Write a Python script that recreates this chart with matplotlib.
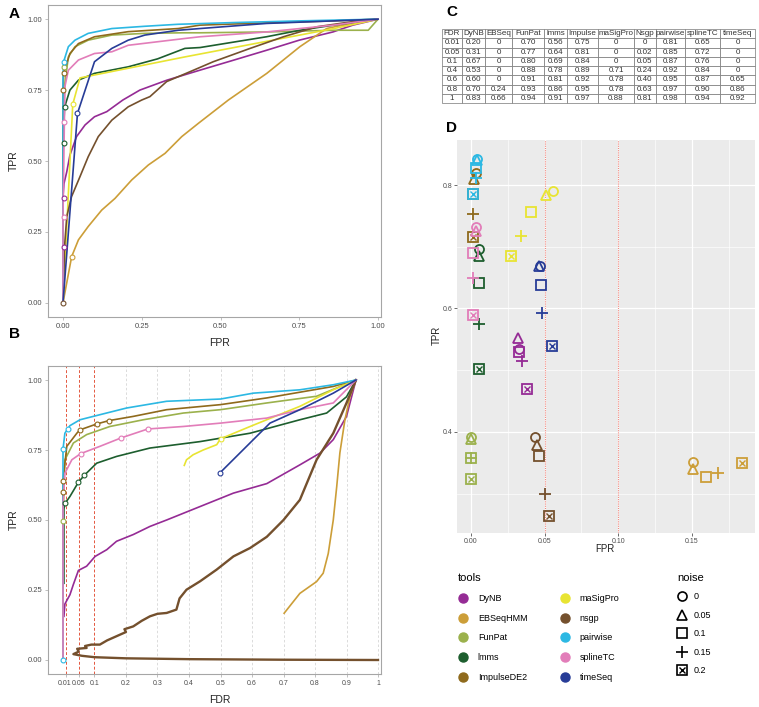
import matplotlib
matplotlib.use('Agg')
import matplotlib.pyplot as plt
import matplotlib.transforms as mtrans
from matplotlib.lines import Line2D
from matplotlib.legend_handler import HandlerTuple

plt.rcParams['font.family'] = ['Liberation Sans', 'DejaVu Sans']

# ---- data ----
tools = ['DyNB', 'EBSeqHMM', 'FunPat', 'lmms', 'ImpulseDE2',
         'maSigPro', 'nsgp', 'pairwise', 'splineTC', 'timeSeq']
colors = ['#952B95', '#CC9E38', '#9BB14C', '#1D5E2E', '#8F6A1C',
          '#E8E432', '#74502D', '#2CB8E3', '#E27DB9', '#273C97']

# panel A: ROC curves (FPR, TPR)
roc_x = {
    'DyNB': [0, 0, 0.003, 0.012, 0.022, 0.043, 0.07, 0.1, 0.139, 0.19, 0.244, 0.33, 0.434, 0.54, 0.645, 0.75, 0.857, 0.92, 1.0],
    'EBSeqHMM': [0, 0.0275, 0.049, 0.08, 0.123, 0.165, 0.218, 0.271, 0.324, 0.377, 0.43, 0.525, 0.647, 0.752, 0.837, 0.87, 1.0],
    'FunPat': [0, 0, 0.006, 0.017, 0.038, 0.08, 0.155, 0.26, 0.38, 0.435, 0.646, 0.858, 0.969, 1.0],
    'lmms': [0, 0, 0.005, 0.022, 0.049, 0.1, 0.207, 0.3, 0.387, 0.435, 0.646, 0.752, 0.858, 1.0],
    'ImpulseDE2': [0, 0, 0.002, 0.022, 0.049, 0.1, 0.207, 0.366, 0.435, 0.646, 0.858, 1.0],
    'maSigPro': [0, 0.031, 0.054, 0.387, 0.86, 1.0],
    'nsgp': [0, 0.005, 0.012, 0.027, 0.054, 0.08, 0.112, 0.155, 0.207, 0.25, 0.276, 0.329, 0.393, 0.477, 0.594, 0.7, 0.805, 0.911, 1.0],
    'pairwise': [0, 0, 0.002, 0.017, 0.038, 0.08, 0.155, 0.26, 0.365, 0.54, 0.752, 1.0],
    'splineTC': [0, 0, 0.006, 0.017, 0.049, 0.1, 0.155, 0.207, 0.387, 0.435, 0.646, 0.858, 1.0],
    'timeSeq': [0, 0.046, 0.1, 0.155, 0.207, 0.26, 0.366, 0.435, 0.646, 1.0],
}
roc_y = {
    'DyNB': [0, 0.374, 0.42, 0.462, 0.521, 0.586, 0.627, 0.656, 0.674, 0.715, 0.75, 0.785, 0.82, 0.855, 0.89, 0.926, 0.955, 0.979, 1.0],
    'EBSeqHMM': [0, 0.163, 0.222, 0.269, 0.327, 0.368, 0.433, 0.486, 0.527, 0.586, 0.633, 0.715, 0.809, 0.903, 0.967, 0.975, 1.0],
    'FunPat': [0, 0.6, 0.774, 0.867, 0.903, 0.926, 0.944, 0.95, 0.952, 0.952, 0.955, 0.961, 0.961, 1.0],
    'lmms': [0, 0.56, 0.69, 0.75, 0.785, 0.809, 0.832, 0.86, 0.897, 0.9, 0.938, 0.961, 0.979, 1.0],
    'ImpulseDE2': [0, 0.75, 0.81, 0.879, 0.914, 0.938, 0.956, 0.967, 0.979, 0.987, 0.994, 1.0],
    'maSigPro': [0, 0.70, 0.793, 0.867, 0.967, 1.0],
    'nsgp': [0, 0.2, 0.304, 0.374, 0.445, 0.515, 0.586, 0.644, 0.691, 0.715, 0.727, 0.78, 0.81, 0.85, 0.897, 0.938, 0.973, 0.99, 1.0],
    'pairwise': [0, 0.8, 0.85, 0.903, 0.926, 0.95, 0.967, 0.975, 0.982, 0.988, 0.994, 1.0],
    'splineTC': [0, 0.3, 0.762, 0.82, 0.856, 0.879, 0.885, 0.908, 0.932, 0.938, 0.955, 0.979, 1.0],
    'timeSeq': [0, 0.668, 0.85, 0.897, 0.926, 0.944, 0.961, 0.967, 0.985, 1.0],
}
roc_mark_x = {
    'DyNB': [0.002, 0.002], 'EBSeqHMM': [0.0275], 'FunPat': [0.003],
    'lmms': [0.002, 0.005], 'ImpulseDE2': [0, 0.002], 'maSigPro': [0.031],
    'nsgp': [0], 'pairwise': [0.002], 'splineTC': [0.002, 0.002], 'timeSeq': [0.046],
}
roc_mark_y = {
    'DyNB': [0.197, 0.368], 'EBSeqHMM': [0.163], 'FunPat': [0.83],
    'lmms': [0.562, 0.69], 'ImpulseDE2': [0.75, 0.81], 'maSigPro': [0.70],
    'nsgp': [0], 'pairwise': [0.85], 'splineTC': [0.303, 0.638], 'timeSeq': [0.668],
}

# panel B: TPR against FDR
fdr_x = {
    'DyNB': [0.003, 0.006, 0.022, 0.033, 0.049, 0.075, 0.102, 0.139, 0.17, 0.223, 0.276, 0.329, 0.435, 0.541, 0.647, 0.752, 0.816, 0.858, 0.9, 0.93],
    'EBSeqHMM': [0.702, 0.752, 0.805, 0.826, 0.842, 0.858, 0.869, 0.879, 0.895, 0.911, 0.93],
    'FunPat': [0, 0, 0.006, 0.033, 0.075, 0.149, 0.255, 0.382, 0.5, 0.647, 0.805, 0.93],
    'lmms': [0.003, 0.003, 0.007, 0.022, 0.049, 0.068, 0.107, 0.17, 0.276, 0.435, 0.594, 0.752, 0.837, 0.9, 0.93],
    'ImpulseDE2': [0, 0, 0, 0.012, 0.044, 0.054, 0.107, 0.146, 0.223, 0.329, 0.5, 0.647, 0.858, 0.93],
    'maSigPro': [0.385, 0.392, 0.413, 0.445, 0.488, 0.5, 0.594, 0.752, 0.858, 0.93],
    'nsgp': [1.0, 0.7, 0.4, 0.2, 0.1, 0.06, 0.033, 0.05, 0.045, 0.075, 0.07, 0.09, 0.117, 0.14, 0.17, 0.2, 0.195,
             0.223, 0.25, 0.276, 0.3, 0.329, 0.36, 0.37, 0.392, 0.435, 0.488, 0.541, 0.594, 0.647, 0.7, 0.752,
             0.805, 0.858, 0.9, 0.93],
    'pairwise': [0, 0, 0.006, 0.022, 0.054, 0.117, 0.202, 0.329, 0.5, 0.604, 0.752, 0.858, 0.93],
    'splineTC': [0, 0, 0.006, 0.028, 0.056, 0.117, 0.184, 0.269, 0.382, 0.5, 0.647, 0.752, 0.858, 0.93],
    'timeSeq': [0.497, 0.657, 0.752, 0.858, 0.93],
}
fdr_y = {
    'DyNB': [0.156, 0.2, 0.233, 0.27, 0.32, 0.335, 0.37, 0.394, 0.424, 0.448, 0.477, 0.5, 0.548, 0.596, 0.63, 0.697, 0.739, 0.787, 0.87, 1.0],
    'EBSeqHMM': [0.167, 0.238, 0.28, 0.31, 0.38, 0.5, 0.62, 0.74, 0.858, 0.94, 1.0],
    'FunPat': [0, 0.495, 0.715, 0.775, 0.805, 0.834, 0.858, 0.882, 0.894, 0.918, 0.942, 1.0],
    'lmms': [0.274, 0.54, 0.56, 0.584, 0.635, 0.66, 0.703, 0.727, 0.757, 0.78, 0.81, 0.858, 0.882, 0.94, 1.0],
    'ImpulseDE2': [0, 0.60, 0.64, 0.763, 0.81, 0.822, 0.843, 0.855, 0.87, 0.894, 0.912, 0.936, 0.977, 1.0],
    'maSigPro': [0.695, 0.715, 0.733, 0.75, 0.769, 0.79, 0.834, 0.906, 0.965, 1.0],
    'nsgp': [0.0, 0.001, 0.003, 0.006, 0.01, 0.015, 0.021, 0.03, 0.04, 0.043, 0.05, 0.055, 0.055, 0.07, 0.085, 0.1, 0.11,
             0.12, 0.14, 0.156, 0.165, 0.168, 0.18, 0.22, 0.251, 0.281, 0.323, 0.37, 0.4, 0.44, 0.5, 0.572,
             0.715, 0.81, 0.918, 1.0],
    'pairwise': [0, 0.753, 0.81, 0.837, 0.858, 0.876, 0.9, 0.924, 0.932, 0.953, 0.965, 0.983, 1.0],
    'splineTC': [0, 0.55, 0.667, 0.715, 0.737, 0.763, 0.793, 0.825, 0.834, 0.846, 0.864, 0.894, 0.918, 1.0],
    'timeSeq': [0.667, 0.846, 0.894, 0.953, 1.0],
}
fdr_mark_x = {
    'DyNB': [], 'EBSeqHMM': [], 'FunPat': [0], 'lmms': [0.007, 0.049, 0.068],
    'ImpulseDE2': [0, 0, 0.054, 0.107, 0.146], 'maSigPro': [0.5], 'nsgp': [],
    'pairwise': [0, 0, 0.017], 'splineTC': [0.056, 0.184, 0.269], 'timeSeq': [0.497],
}
fdr_mark_y = {
    'DyNB': [], 'EBSeqHMM': [], 'FunPat': [0.495], 'lmms': [0.56, 0.635, 0.66],
    'ImpulseDE2': [0.60, 0.64, 0.822, 0.843, 0.855], 'maSigPro': [0.79], 'nsgp': [],
    'pairwise': [0, 0.753, 0.825], 'splineTC': [0.737, 0.793, 0.825], 'timeSeq': [0.667],
}
fdr_cutoffs = [0.01, 0.05, 0.1]
fdr_grid = [0.2, 0.3, 0.4, 0.5, 0.6, 0.7, 0.8, 0.9, 1.0]
fdr_ticks = [0.01, 0.05, 0.1, 0.2, 0.3, 0.4, 0.5, 0.6, 0.7, 0.8, 0.9, 1]
fdr_ticklabels = ['0.01', '0.05', '0.1', '0.2', '0.3', '0.4', '0.5', '0.6', '0.7', '0.8', '0.9', '1']

# panel C: table
table_header = ['FDR', 'DyNB', 'EBSeq', 'FunPat', 'lmms', 'Impulse', 'maSigPro',
                'Nsgp', 'pairwise', 'splineTC', 'timeSeq']
table_rows = [
    ['0.01', '0.20', '0', '0.70', '0.56', '0.75', '0', '0', '0.81', '0.65', '0'],
    ['0.05', '0.31', '0', '0.77', '0.64', '0.81', '0', '0.02', '0.85', '0.72', '0'],
    ['0.1', '0.67', '0', '0.80', '0.69', '0.84', '0', '0.05', '0.87', '0.76', '0'],
    ['0.4', '0.53', '0', '0.88', '0.78', '0.89', '0.71', '0.24', '0.92', '0.84', '0'],
    ['0.6', '0.60', '0', '0.91', '0.81', '0.92', '0.78', '0.40', '0.95', '0.87', '0.65'],
    ['0.8', '0.70', '0.24', '0.93', '0.86', '0.95', '0.78', '0.63', '0.97', '0.90', '0.86'],
    ['1', '0.83', '0.66', '0.94', '0.91', '0.97', '0.88', '0.81', '0.98', '0.94', '0.92'],
]
table_colw = [20, 22.7, 27.7, 32, 22.6, 31, 35.7, 22, 29, 35, 35]

# panel D: FPR/TPR per tool at each noise level
noise_levels = ['0', '0.05', '0.1', '0.15', '0.2']
d_fpr = [
    [0.0327, 0.0317, 0.0327, 0.0345, 0.0379],
    [0.1512, 0.1512, 0.160, 0.1678, 0.184],
    [0.0, 0.0, 0.0, 0.0, 0.0],
    [0.0057, 0.0057, 0.0052, 0.0052, 0.0054],
    [0.0034, 0.0023, 0.0016, 0.0016, 0.0016],
    [0.0556, 0.051, 0.0406, 0.0342, 0.027],
    [0.0435, 0.0447, 0.0463, 0.0506, 0.0533],
    [0.0039, 0.0039, 0.0036, 0.0036, 0.0016],
    [0.0032, 0.0032, 0.0016, 0.0016, 0.0011],
    [0.047, 0.0465, 0.0474, 0.048, 0.0553],
]
d_tpr = [
    [0.534, 0.5515, 0.530, 0.515, 0.470],
    [0.3516, 0.340, 0.327, 0.333, 0.349],
    [0.391, 0.389, 0.357, 0.357, 0.323],
    [0.697, 0.685, 0.641, 0.575, 0.502],
    [0.819, 0.809, 0.785, 0.753, 0.715],
    [0.791, 0.784, 0.757, 0.717, 0.685],
    [0.392, 0.379, 0.36, 0.299, 0.264],
    [0.843, 0.84, 0.828, 0.811, 0.785],
    [0.732, 0.726, 0.690, 0.649, 0.589],
    [0.668, 0.668, 0.638, 0.592, 0.539],
]
d_fpr_lines = [0.05, 0.10]

# ---- layout helpers ----
W, H = 759, 707
fig = plt.figure(figsize=(W / 100, H / 100), dpi=100)


def box(l, t, r, b):
    return [l / W, 1 - b / H, (r - l) / W, (b - t) / H]


def ftext(x, y, s, **kw):
    fig.text(x / W, 1 - y / H, s, **kw)


tick_grey = '#4D4D4D'
spine_grey = '#A6A6A6'


def style_box(ax, size=5.5):
    for sp in ax.spines.values():
        sp.set_color(spine_grey)
        sp.set_linewidth(0.8)
    ax.tick_params(length=2, width=0.5, color=spine_grey, labelsize=size,
                   labelcolor=tick_grey, pad=2)


# ---- panel A ----
axA = fig.add_axes(box(48, 5, 381, 317))
for t, c in zip(tools, colors):
    axA.plot(roc_x[t], roc_y[t], color=c, lw=1.2)
for t, c in zip(tools, colors):
    axA.plot(roc_mark_x[t], roc_mark_y[t], 'o', mfc='white', mec=c, ms=3.5, mew=0.8)
axA.set_xlim(-0.0476, 1.0095)
axA.set_ylim(-0.05, 1.05)
axA.set_xticks([0, 0.25, 0.5, 0.75, 1.0])
axA.set_xticklabels(['0.00', '0.25', '0.50', '0.75', '1.00'])
axA.set_yticks([0, 0.25, 0.5, 0.75, 1.0])
axA.set_yticklabels(['0.00', '0.25', '0.50', '0.75', '1.00'])
style_box(axA)
ftext(14, 161, 'TPR', rotation=90, ha='center', va='center', fontsize=7.5, color='#222222')
ftext(220, 343, 'FPR', ha='center', va='center', fontsize=7.5, color='#222222')
ftext(9, 14, 'A', ha='left', va='center', fontsize=11, fontweight='bold')

# ---- panel B ----
axB = fig.add_axes(box(48, 366, 381, 674))
for v in fdr_grid:
    axB.axvline(v, color='#D6D6D6', ls=(0, (3, 2.5)), lw=0.6, zorder=0)
for v in fdr_cutoffs:
    axB.axvline(v, color='#E4573F', ls=(0, (3, 2)), lw=0.7, zorder=0)
for t, c in zip(tools, colors):
    lw = 1.7 if t == 'nsgp' else 1.2
    axB.plot(fdr_x[t], fdr_y[t], color=c, lw=lw)
for t, c in zip(tools, colors):
    axB.plot(fdr_mark_x[t], fdr_mark_y[t], 'o', mfc='white', mec=c, ms=3.5, mew=0.8)
axB.set_xlim(-0.0476, 1.0095)
axB.set_ylim(-0.05, 1.05)
axB.set_xticks(fdr_ticks)
axB.set_xticklabels(fdr_ticklabels)
axB.set_yticks([0, 0.25, 0.5, 0.75, 1.0])
axB.set_yticklabels(['0.00', '0.25', '0.50', '0.75', '1.00'])
style_box(axB)
axB.tick_params(axis='x', labelsize=5)
first = axB.get_xticklabels()[0]
first.set_transform(first.get_transform() + mtrans.ScaledTranslation(-2 / 100, 0, fig.dpi_scale_trans))
ftext(14, 520, 'TPR', rotation=90, ha='center', va='center', fontsize=7.5, color='#222222')
ftext(220, 700, 'FDR', ha='center', va='center', fontsize=7.5, color='#222222')
ftext(9, 334, 'B', ha='left', va='center', fontsize=11, fontweight='bold')

# ---- panel C ----
axC = fig.add_axes(box(442, 29, 755, 103))
axC.axis('off')
tot = sum(table_colw)
tbl = axC.table(cellText=table_rows, colLabels=table_header,
                colWidths=[w / tot for w in table_colw],
                cellLoc='center', bbox=[0, 0, 1, 1])
tbl.auto_set_font_size(False)
tbl.set_fontsize(5.8)
for cell in tbl.get_celld().values():
    cell.set_linewidth(0.5)
    cell.set_edgecolor('#777777')
    cell.get_text().set_color('#333333')
ftext(446, 12, 'C', ha='left', va='center', fontsize=11, fontweight='bold')

# ---- panel D ----
axD = fig.add_axes(box(457, 140, 755, 533))
axD.set_facecolor('#EBEBEB')
for sp in axD.spines.values():
    sp.set_visible(False)
axD.set_xlim(-0.0095, 0.193)
axD.set_ylim(0.236, 0.873)
axD.set_xticks([0, 0.05, 0.1, 0.15])
axD.set_xticklabels(['0.00', '0.05', '0.10', '0.15'])
axD.set_yticks([0.4, 0.6, 0.8])
axD.set_yticklabels(['0.4', '0.6', '0.8'])
axD.set_xticks([0.025, 0.075, 0.125, 0.175], minor=True)
axD.set_yticks([0.3, 0.5, 0.7], minor=True)
axD.grid(True, which='major', color='white', lw=0.9)
axD.grid(True, which='minor', color='white', lw=0.45)
axD.set_axisbelow(True)
axD.tick_params(which='major', length=2, width=0.5, color='#333333', labelsize=5,
                labelcolor=tick_grey, pad=1.5)
axD.tick_params(which='minor', length=0)
for v in d_fpr_lines:
    axD.axvline(v, color='#F08A80', ls=(0, (1, 1)), lw=0.8, zorder=1)

shape_kw = [dict(marker='o'), dict(marker='^'), dict(marker='s'), dict(marker='+'), dict(marker='s')]
for i, c in enumerate(colors):
    for j in range(len(noise_levels)):
        x, y = d_fpr[i][j], d_tpr[i][j]
        ms = 6.5 if j != 3 else 8
        axD.plot([x], [y], ls='none', mfc='none', mec=c, ms=ms, mew=1.3, zorder=3, **shape_kw[j])
        if j == 4:
            axD.plot([x], [y], ls='none', marker='x', mec=c, ms=4, mew=1.0, zorder=3)
ftext(437, 335, 'TPR', rotation=90, ha='center', va='center', fontsize=7, color='#222222')
ftext(605, 549, 'FPR', ha='center', va='center', fontsize=7, color='#222222')
ftext(446, 128, 'D', ha='left', va='center', fontsize=11, fontweight='bold')

# ---- legends ----
tool_handles = [Line2D([], [], ls='none', marker='o', ms=6.5, color=c) for c in colors]
leg1 = fig.legend(tool_handles, tools, title='tools', ncol=2, loc='upper left',
                  bbox_to_anchor=(458 / W, 1 - 573 / H), frameon=False, fontsize=6.5,
                  title_fontsize=8, labelspacing=1.2, handlelength=1.0, handletextpad=1.2,
                  columnspacing=3.6, alignment='left', borderaxespad=0, borderpad=0)
noise_handles = [
    Line2D([], [], ls='none', marker='o', mfc='none', mec='black', ms=6.5, mew=1.2),
    Line2D([], [], ls='none', marker='^', mfc='none', mec='black', ms=6.5, mew=1.2),
    Line2D([], [], ls='none', marker='s', mfc='none', mec='black', ms=6.5, mew=1.2),
    Line2D([], [], ls='none', marker='+', mec='black', ms=8, mew=1.2),
    (Line2D([], [], ls='none', marker='s', mfc='none', mec='black', ms=6.5, mew=1.2),
     Line2D([], [], ls='none', marker='x', mec='black', ms=4, mew=1.0)),
]
leg2 = fig.legend(noise_handles, noise_levels, title='noise', loc='upper left',
                  bbox_to_anchor=(677 / W, 1 - 573 / H), frameon=False, fontsize=6.5,
                  title_fontsize=8, labelspacing=1.05, handlelength=1.0, handletextpad=0.8,
                  alignment='left', borderaxespad=0, borderpad=0,
                  handler_map={tuple: HandlerTuple(ndivide=1)})

fig.savefig('out.png', dpi=100)
